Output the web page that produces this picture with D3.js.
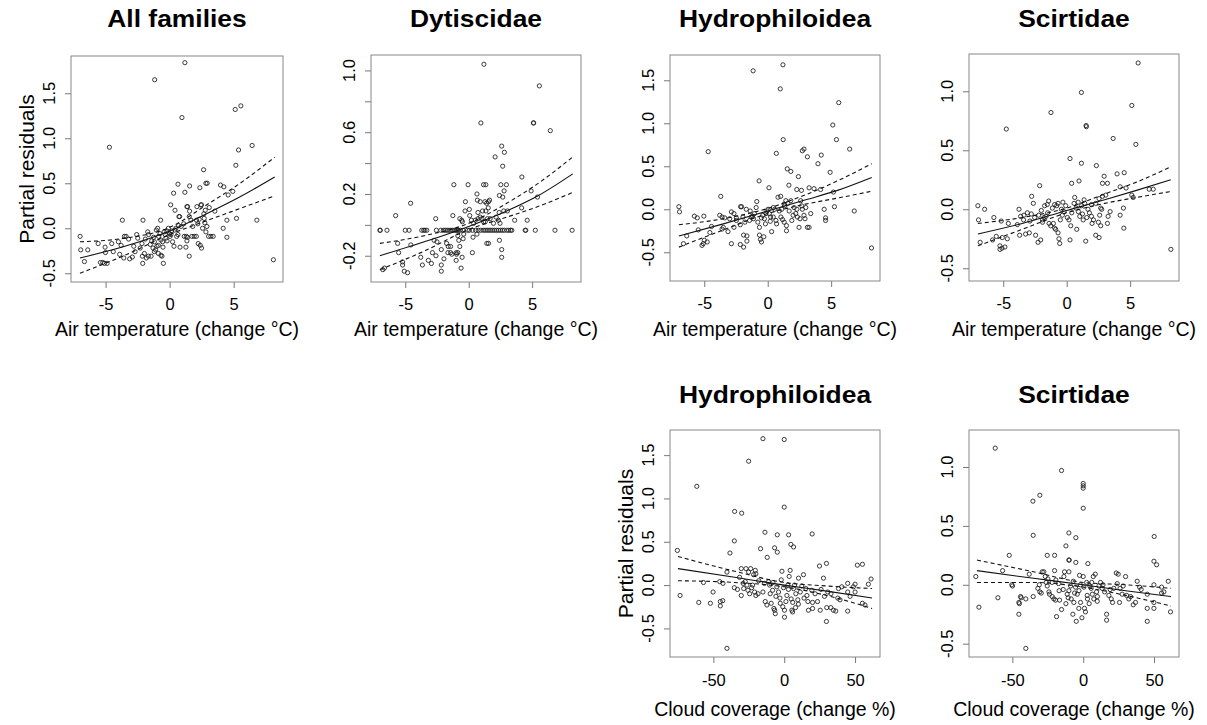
<!DOCTYPE html>
<html>
<head>
<meta charset="utf-8">
<script src="https://cdn.jsdelivr.net/npm/d3@7"></script>
<style>
body { margin: 0; background: #fff; }
text { font-family: "Liberation Sans", Arial, sans-serif; fill: #000; }
</style>
</head>
<body>
<svg id="chart" width="1207" height="725"></svg>
<script>
// axis ticks
var airTicks = [-5, 0, 5];
var cloudTicks = [-50, 0, 50];
var resTicksWide = [-0.5, 0, 0.5, 1, 1.5];
var resTicksScirt = [-0.5, 0, 0.5, 1];
var resTicksDyt = [-0.2, 0, 0.2, 0.4, 0.6, 0.8, 1.0];
var resLabelsDyt = [-0.2, 0.2, 0.6, 1.0];

// partial residuals, air temperature [change degC, residual]
var allFamiliesPts = [
[1.19,1.84],[-1.17,1.65],[0.96,1.23],[5.12,1.32],[5.56,1.36],[-4.70,0.90],[6.44,0.92],[5.38,0.87],[5.17,0.70],[2.65,0.65],
[0.65,0.49],[1.56,0.47],[2.83,0.50],[2.93,0.50],[3.97,0.48],[4.23,0.46],[1.19,0.40],[2.36,0.45],[0.31,0.39],[4.93,0.41],
[4.57,0.37],[0.08,0.26],[1.35,0.24],[1.40,0.24],[2.44,0.26],[2.49,0.26],[0.42,0.20],[0.78,0.13],[0.73,0.13],[1.56,0.19],
[2.13,0.24],[2.78,0.20],[3.09,0.23],[2.67,0.16],[1.53,0.13],[1.66,0.09],[2.31,0.10],[2.70,0.11],[2.75,0.06],[4.47,0.09],
[5.22,0.11],[6.81,0.09],[4.18,0.00],[4.47,-0.10],[8.10,-0.35],[-3.69,0.09],[-2.08,0.09],[-0.70,0.09],[-6.99,-0.09],[-6.94,-0.24],
[-6.39,-0.24],[-6.65,-0.37],[-5.58,-0.17],[-5.04,-0.21],[-5.01,-0.27],[-5.40,-0.38],[-5.22,-0.38],[-5.09,-0.39],[-4.88,-0.39],[-4.52,-0.17],
[-3.79,-0.19],[-3.53,-0.09],[-3.40,-0.09],[-3.58,-0.33],[-3.12,-0.34],[-2.91,-0.32],[-2.57,-0.07],[-2.49,-0.11],[-2.16,-0.17],[-2.13,-0.31],
[-2.10,-0.39],[-1.97,-0.28],[-1.82,-0.33],[-1.71,-0.04],[-1.64,-0.07],[-1.51,-0.18],[-1.66,-0.31],[-1.45,-0.31],[-1.25,-0.10],[-1.19,-0.15],
[-0.99,-0.20],[-0.88,-0.19],[-1.30,-0.22],[-1.19,-0.26],[-1.04,-0.02],[-0.94,0.00],[-0.86,-0.09],[-0.68,-0.13],[-0.55,-0.15],[-0.52,-0.21],
[-0.88,-0.28],[-0.68,-0.30],[-0.60,-0.31],[-0.49,-0.39],[-0.42,-0.04],[-0.34,-0.07],[-0.29,-0.11],[-0.21,-0.03],[-0.10,0.00],[0.00,-0.06],
[0.03,-0.09],[0.10,-0.07],[0.23,-0.15],[0.34,-0.20],[0.49,0.00],[0.55,-0.09],[0.70,0.03],[0.81,-0.21],[0.65,-0.07],[1.14,-0.09],
[1.30,-0.09],[1.35,-0.14],[1.40,-0.10],[1.53,-0.31],[1.27,-0.21],[1.74,-0.09],[1.92,-0.09],[2.08,-0.09],[2.23,-0.17],[2.39,-0.19],
[2.49,-0.22],[2.10,0.09],[2.57,0.00],[2.83,-0.04],[2.91,0.02],[3.04,-0.09],[3.22,-0.09],[3.40,-0.09],[3.53,0.19],
[-4.00,-0.15],[-3.20,-0.12],[-2.80,-0.20],[-2.30,-0.22],[-1.90,-0.12],[-1.40,-0.14],[-0.20,-0.14],[0.40,-0.02],[0.90,0.02],[1.10,0.05],
[1.80,0.02],[2.20,0.05],[-4.40,-0.26],[-3.90,-0.29],[-2.70,-0.26],[-1.10,-0.24],[0.15,-0.03],[-0.75,-0.06]
];

var dytiscidaePts = [
[1.20,1.04],[5.57,0.90],[0.96,0.66],[5.10,0.66],[5.12,0.66],[6.43,0.61],[2.60,0.51],[2.81,0.47],[2.08,0.44],[2.68,0.38],[4.19,0.31],
[-1.17,0.26],[-0.05,0.26],[1.17,0.26],[1.35,0.26],[2.53,0.26],[2.97,0.26],
[0.65,0.20],[2.79,0.22],[2.42,0.19],[2.68,0.18],[4.92,0.22],[5.42,0.18],
[-5.76,0.06],[-4.58,0.14],[-0.26,0.15],[0.68,0.16],[0.91,0.15],[1.28,0.15],[1.41,0.14],[1.56,0.15],[1.64,0.16],[1.54,0.11],
[0.05,0.10],[0.73,0.08],[1.09,0.09],[1.35,0.09],[2.40,0.08],[2.76,0.09],[3.05,0.09],[4.17,0.11],[3.62,0.03],[4.61,0.03],
[-2.60,0.04],[-1.25,0.06],[-0.70,0.04],[-0.55,0.03],[-0.50,0.02],[-0.29,0.09],[0.08,0.06],[0.21,0.03],[0.39,0.01],[0.52,0.03],
[0.73,0.04],[0.91,0.05],[1.04,0.04],[1.17,0.02],[1.30,0.02],[1.48,0.04],[1.69,0.04],[1.95,0.01],[2.16,0.05],[2.34,0.03],[2.47,0.01],
[-7.00,-0.035],[-6.97,-0.035],[-6.44,-0.035],[-5.00,-0.035],[-4.70,-0.035],[-3.70,-0.035],[-3.55,-0.035],[-3.45,-0.035],[-3.30,-0.035],
[-2.55,-0.035],[-2.20,-0.035],[-2.00,-0.035],[-1.85,-0.035],[-1.70,-0.035],[-1.55,-0.035],[-1.40,-0.035],[-1.25,-0.035],[-1.10,-0.035],
[-1.00,-0.035],[-0.90,-0.035],[-0.80,-0.035],[-0.65,-0.035],[-0.45,-0.035],[-0.10,-0.035],[0.05,-0.035],[0.30,-0.035],[0.55,-0.035],
[0.75,-0.035],[0.95,-0.035],[1.15,-0.035],[1.30,-0.035],[1.45,-0.035],[1.60,-0.035],[1.75,-0.035],[1.90,-0.035],[2.05,-0.035],
[2.20,-0.035],[2.35,-0.035],[2.50,-0.035],[2.65,-0.035],[2.80,-0.035],[3.00,-0.035],[3.15,-0.035],[3.30,-0.035],[3.40,-0.035],
[4.45,-0.035],[4.50,-0.035],[5.25,-0.035],[6.80,-0.035],[8.15,-0.035],
[-5.60,-0.12],[-5.52,-0.18],[-4.56,-0.13],[-6.77,-0.29],[-6.64,-0.28],[-5.21,-0.24],[-5.21,-0.26],[-5.08,-0.30],[-4.82,-0.31],[-3.78,-0.21],
[-3.65,-0.26],[-3.18,-0.23],[-2.94,-0.25],[-2.86,-0.18],[-2.73,-0.10],[-2.50,-0.11],[-2.58,-0.20],[-2.16,-0.16],[-2.16,-0.26],[-2.16,-0.30],
[-1.95,-0.22],[-1.74,-0.12],[-1.61,-0.14],[-1.43,-0.14],[-1.64,-0.18],[-1.43,-0.18],[-1.33,-0.19],[-0.99,-0.18],[-0.96,-0.19],[-0.86,-0.18],
[-0.99,-0.23],[-0.52,-0.21],[-0.60,-0.28],[-0.78,-0.10],[-0.70,-0.14],[-0.86,-0.07],[-0.44,-0.09],[-0.39,-0.06],[0.29,-0.18],[0.65,-0.06],
[0.34,-0.08],[1.43,-0.12],[1.56,-0.12],[2.42,-0.10],[2.60,-0.16],[2.60,-0.21]
];

var hydroAirPts = [
[1.20,1.68],[-1.15,1.61],[0.99,1.40],[5.60,1.24],[5.13,0.98],[5.42,0.81],[1.22,0.81],[-4.69,0.67],[6.46,0.70],[0.68,0.65],
[2.73,0.68],[2.86,0.70],[3.13,0.61],[4.22,0.63],[3.96,0.53],[1.54,0.47],[1.82,0.44],[4.92,0.43],[-0.68,0.33],[0.10,0.25],
[2.42,0.38],[1.67,0.28],[2.29,0.23],[2.66,0.22],[3.26,0.25],[3.65,0.24],[4.17,0.23],[5.18,0.20],[-3.70,0.15],[-7.00,0.03],
[-6.95,-0.03],[-5.78,-0.08],[-5.55,-0.10],[-5.03,-0.08],[-6.64,-0.40],[-6.38,-0.31],[-5.47,-0.24],[-5.18,-0.42],[-5.08,-0.40],[-5.00,-0.36],
[-4.77,-0.38],[-4.56,-0.27],[-4.43,-0.20],[-3.78,-0.07],[-3.60,-0.09],[-3.39,-0.10],[-3.50,-0.21],[-3.13,-0.26],[-3.60,-0.23],[-2.86,-0.03],
[-2.66,-0.05],[-2.47,-0.10],[-2.86,-0.40],[-2.66,-0.21],[-2.16,-0.18],[-2.14,0.03],[-2.06,0.03],[-1.90,-0.30],[-2.16,-0.41],[-1.90,-0.44],
[-1.69,0.00],[-1.64,-0.31],[-1.64,-0.37],[-1.43,-0.13],[-1.30,-0.09],[-1.12,-0.11],[-1.04,-0.05],[-0.91,0.02],[-0.86,0.09],[-0.78,-0.15],
[-0.65,-0.21],[-0.65,-0.30],[-0.57,-0.35],[-0.49,-0.38],[-0.31,-0.32],[-0.18,-0.17],[-0.39,-0.07],[-0.26,-0.11],[-0.13,-0.05],[-0.05,-0.02],
[0.03,0.00],[0.13,-0.05],[0.23,-0.09],[0.31,-0.26],[0.44,0.02],[0.55,0.00],[0.65,-0.13],[0.70,-0.17],[0.81,0.14],[1.02,0.15],
[1.04,-0.09],[1.17,-0.12],[1.30,-0.15],[1.48,-0.19],[1.48,-0.25],[1.35,0.04],[1.43,0.10],[1.59,0.07],[1.90,-0.13],[2.00,-0.07],
[2.21,-0.05],[2.34,-0.09],[2.47,-0.21],[2.55,-0.11],[2.68,0.04],[2.73,0.00],[2.86,-0.07],[2.94,-0.11],[3.13,-0.21],[3.26,-0.21],
[3.39,-0.05],[4.45,0.00],[4.56,-0.10],[4.56,-0.13],[5.26,0.03],[6.82,-0.02],[8.18,-0.45],
[-2.47,-0.13],[-3.00,-0.11],[-1.95,-0.09],[-1.38,-0.02],[0.44,-0.09],[0.91,-0.02],[1.69,-0.02],[2.08,0.02],[1.82,0.10],[2.60,0.10],
[-1.80,-0.15],[-1.20,-0.08],[-0.50,-0.10],[0.20,-0.14],[1.10,0.00],[1.30,0.06],[2.30,0.00],[3.00,0.02]
];

var scirtAirPts = [
[5.63,1.24],[1.16,0.99],[5.13,0.88],[-1.24,0.82],[1.53,0.71],[1.55,0.70],[-4.76,0.68],[3.66,0.60],[5.45,0.55],[0.26,0.43],
[1.16,0.39],[2.34,0.37],[2.95,0.28],[3.97,0.30],[4.53,0.31],[-2.13,0.20],[0.39,0.22],[0.97,0.24],[2.82,0.22],[3.21,0.22],
[4.21,0.19],[4.68,0.18],[6.50,0.17],[6.82,0.17],[5.13,0.12],[5.24,0.10],[-7.00,0.03],[-6.47,0.00],[-6.95,-0.09],[-5.74,-0.07],
[-5.16,-0.10],[-4.60,-0.12],[-6.82,-0.28],[-5.84,-0.26],[-5.55,-0.23],[-5.26,-0.31],[-5.26,-0.34],[-5.10,-0.33],[-4.87,-0.32],[-5.08,-0.24],
[-4.68,-0.25],[-3.89,-0.13],[-3.76,0.00],[-3.63,-0.06],[-3.71,-0.22],[-3.24,-0.21],[-2.95,-0.20],[-3.37,-0.05],[-3.10,-0.03],[-2.79,-0.04],
[-2.76,0.11],[-2.63,0.05],[-2.53,-0.07],[-2.21,-0.05],[-2.45,-0.22],[-2.26,-0.28],[-2.05,-0.26],[-2.00,-0.01],[-1.92,-0.09],[-1.79,-0.07],
[-1.63,-0.06],[-1.74,0.03],[-1.53,0.04],[-1.42,0.07],[-1.39,-0.12],[-1.26,-0.14],[-1.05,-0.12],[-0.95,-0.16],[-1.13,0.01],[-0.95,0.04],
[-0.79,0.03],[-0.68,0.05],[-0.87,-0.17],[-0.68,-0.20],[-0.61,-0.25],[-0.55,-0.29],[-0.42,0.00],[-0.34,-0.05],[-0.21,-0.02],[-0.08,0.03],
[0.05,-0.07],[0.18,-0.09],[0.26,-0.26],[0.32,-0.14],[0.58,0.05],[0.63,0.10],[0.74,0.01],[0.79,-0.17],[0.92,-0.02],[1.03,-0.06],
[1.16,0.03],[1.24,-0.04],[1.37,0.08],[1.42,0.05],[1.50,-0.27],[1.58,-0.07],[1.68,0.00],[1.79,-0.03],[1.95,-0.06],[2.11,-0.09],
[1.95,0.04],[2.29,0.05],[2.55,0.09],[2.68,0.01],[2.50,-0.11],[2.60,-0.05],[2.76,0.00],[2.29,-0.22],[2.55,-0.24],[2.68,-0.14],
[3.21,-0.12],[3.26,-0.06],[2.82,0.11],[3.08,0.12],[3.42,-0.02],[4.21,-0.05],[4.47,0.01],[4.50,-0.16],[8.21,-0.34],
[-1.90,-0.11],[-1.50,-0.03],[-0.50,-0.09],[0.40,-0.03],[0.90,0.06],[1.30,-0.09],[2.00,-0.12],[-2.90,-0.10],[-3.40,-0.09],[-0.30,0.06]
];

// partial residuals, cloud coverage [change %, residual]
var hydroCloudPts = [
[-15.0,1.69],[0.0,1.68],[-25.1,1.43],[-61.7,1.14],[0.0,0.90],[-35.0,0.85],[-30.0,0.83],[-35.2,0.51],[-13.6,0.61],[-4.9,0.58],
[3.1,0.58],[19.7,0.59],[4.7,0.47],[6.6,0.44],[-6.8,0.43],[-4.9,0.38],[-16.7,0.42],[-38.3,0.37],[-12.0,0.32],[-75.4,0.40],
[-73.5,-0.12],[-60.3,-0.20],[-57.0,0.03],[-52.1,-0.21],[-50.2,-0.08],[-45.1,-0.24],[-45.1,-0.19],[-43.4,-0.18],[-45.5,0.04],[-43.2,0.02],
[-40.4,0.15],[-40.4,-0.73],[-35.2,-0.03],[-31.5,0.09],[-30.3,0.19],[-30.3,-0.12],[-28.6,-0.04],[-27.0,0.19],[-25.1,0.15],[-27.5,0.04],
[-26.3,0.00],[-25.6,-0.06],[-24.4,-0.10],[-23.7,0.19],[-21.6,0.12],[-20.4,0.17],[-20.0,0.13],[-22.3,0.00],[-20.9,-0.08],[-20.0,-0.12],
[-18.5,-0.10],[-15.0,-0.08],[-13.4,-0.19],[-12.2,-0.23],[-11.0,0.04],[-10.3,0.00],[-9.9,-0.10],[-9.2,-0.21],[-8.2,-0.06],[-7.3,-0.27],
[-6.8,-0.29],[-6.3,-0.33],[-5.9,-0.13],[-5.2,-0.02],[-4.0,-0.08],[-2.8,-0.21],[-2.1,0.06],[-1.6,0.16],[-0.5,-0.03],[0.2,-0.29],
[0.2,-0.37],[1.2,-0.19],[1.9,-0.12],[2.6,0.00],[3.5,0.10],[4.2,0.17],[4.9,-0.16],[5.4,-0.29],[5.9,-0.31],[6.6,-0.04],
[7.3,0.00],[8.2,-0.10],[9.6,-0.17],[10.1,0.08],[11.3,-0.08],[12.4,-0.01],[13.6,0.12],[15.3,-0.04],[16.0,-0.12],[16.7,-0.19],
[17.1,-0.29],[19.5,-0.06],[20.0,-0.27],[21.8,-0.10],[23.5,-0.19],[24.9,0.22],[25.4,-0.29],[27.7,0.08],[28.4,-0.13],[29.8,0.25],
[29.8,-0.42],[30.8,-0.08],[30.0,-0.26],[32.9,-0.26],[34.7,-0.29],[36.4,-0.30],[38.3,-0.04],[40.6,-0.02],[44.8,0.02],[44.8,-0.30],
[44.8,-0.08],[46.5,-0.13],[50.0,0.01],[50.0,-0.08],[51.6,0.23],[55.2,0.24],[55.2,-0.21],[57.0,-0.23],[59.4,0.01],[61.3,0.07],
[48.8,-0.02],[39.4,-0.17],[37.8,-0.15],
[-33,-0.05],[-29,0.02],[-23,-0.03],[-18,0.05],[-14,0.02],[-8,0.03],[-3,-0.15],[3,-0.05],[6,-0.20],[10,-0.22],
[14,-0.15],[20,-0.20],[26,-0.05],[33,-0.10],[-1,-0.25],[8,-0.26]
];

var scirtCloudPts = [
[-62.1,1.16],[-15.3,0.97],[0.0,0.86],[0.0,0.84],[0.0,0.82],[-35.5,0.71],[-30.6,0.76],[0.0,0.65],[-35.3,0.42],[50.1,0.41],
[-10.1,0.44],[-5.2,0.40],[-12.2,0.33],[-52.2,0.25],[-25.4,0.25],[-20.2,0.25],[-10.1,0.21],[-9.9,0.21],[-5.2,0.19],[49.9,0.20],
[51.8,0.17],[-75.8,0.07],[-56.9,0.12],[-73.6,-0.19],[-60.2,-0.11],[-50.4,0.00],[-49.9,-0.01],[-44.2,-0.10],[-43.8,-0.11],[-45.4,-0.15],
[-45.0,-0.16],[-45.4,-0.25],[-40.5,-0.54],[-40.5,-0.12],[-38.1,0.09],[-35.3,-0.10],[-32.0,-0.03],[-30.6,-0.06],[-29.6,-0.07],[-28.9,0.11],
[-27.8,0.11],[-26.8,0.07],[-26.1,0.02],[-25.4,-0.01],[-24.9,0.05],[-24.2,-0.06],[-23.8,-0.08],[-21.9,-0.10],[-20.7,-0.12],[-19.5,-0.13],
[-18.8,-0.27],[-20.2,0.12],[-19.3,0.04],[-17.4,0.01],[-16.7,-0.13],[-15.3,-0.21],[-14.1,-0.04],[-13.6,0.07],[-13.2,0.11],[-12.2,-0.16],
[-11.3,-0.08],[-10.6,-0.11],[-10.1,0.11],[-10.1,-0.05],[-8.9,-0.01],[-8.5,-0.12],[-7.3,-0.25],[-6.6,-0.15],[-6.1,-0.07],[-5.4,-0.02],
[-4.9,-0.31],[-4.2,-0.08],[-3.1,-0.20],[-2.6,0.08],[-1.9,-0.15],[-0.9,-0.28],[0.0,0.07],[0.5,-0.02],[0.9,-0.20],[1.6,-0.23],
[2.4,0.02],[2.8,-0.09],[3.3,0.18],[4.2,-0.16],[4.7,-0.01],[5.6,-0.03],[6.4,-0.08],[7.1,0.07],[7.5,-0.12],[8.5,0.09],
[9.4,-0.06],[9.9,-0.14],[11.1,-0.01],[12.2,0.02],[13.4,-0.03],[15.1,-0.06],[16.5,-0.25],[16.5,-0.30],[18.1,-0.09],[19.8,-0.12],
[20.7,-0.15],[21.6,-0.03],[23.3,0.10],[24.0,0.01],[24.7,0.09],[25.6,-0.15],[27.5,-0.08],[28.2,-0.01],[29.9,0.07],[30.6,-0.09],
[32.2,-0.12],[33.4,-0.10],[35.3,-0.17],[36.9,-0.15],[38.1,0.03],[39.8,-0.02],[40.9,-0.04],[45.2,-0.08],[45.2,-0.20],[45.2,-0.31],
[49.9,0.00],[49.9,-0.15],[49.9,-0.20],[55.3,-0.02],[56.9,-0.06],[55.3,-0.07],[60.0,0.03],[61.6,-0.23],
[-22,0.02],[-17,-0.05],[-7,0.03],[-2,0.00],[3,-0.12],[6,0.02],[10,-0.10],[14,0.00],[19,-0.04],[26,-0.03],[-31,0.00],[-3,-0.05]
];

// fitted effect with confidence band [x, fit, lower, upper]
var allFamiliesFit = [[-7.0,-0.33,-0.50,-0.15],[-3.5,-0.20,-0.30,-0.11],[0,-0.03,-0.07,0.01],[3,0.17,0.09,0.27],[5.5,0.35,0.22,0.50],[8.2,0.57,0.36,0.79]];
var dytiscidaeFit = [[-7.0,-0.20,-0.29,-0.12],[-3.5,-0.11,-0.17,-0.07],[0,-0.01,-0.03,0.01],[3,0.09,0.05,0.14],[5.5,0.19,0.12,0.27],[8.2,0.33,0.21,0.44]];
var hydroAirFit = [[-7.0,-0.31,-0.44,-0.18],[-3.5,-0.17,-0.24,-0.11],[0,-0.02,-0.05,0.01],[3,0.11,0.06,0.17],[5.5,0.22,0.13,0.33],[8.2,0.37,0.21,0.53]];
var scirtAirFit = [[-7.0,-0.21,-0.31,-0.12],[-3.5,-0.12,-0.17,-0.07],[0,-0.01,-0.03,0.01],[3,0.08,0.05,0.13],[5.5,0.16,0.10,0.23],[8.2,0.25,0.15,0.36]];
var hydroCloudFit = [[-75,0.19,0.05,0.33],[-35,0.09,0.03,0.16],[0,0.00,-0.02,0.03],[30,-0.07,-0.12,-0.01],[62,-0.15,-0.27,-0.04]];
var scirtCloudFit = [[-75,0.12,0.02,0.21],[-35,0.055,0.02,0.11],[0,0.00,-0.02,0.02],[30,-0.05,-0.09,0.00],[62,-0.10,-0.18,-0.03]];

var airLabel = "Air temperature (change \u00B0C)";
var cloudLabel = "Cloud coverage (change %)";
var yLabel = "Partial residuals";

var svg = d3.select("#chart");

// layout of each panel, R style mfrow grid
var rows = [
    {titleY: 27, tickGap: 10, labY: 336},
    {titleY: 403, tickGap: 11, labY: 716}
];

var panels = [
    {title: "All families", pts: allFamiliesPts, fit: allFamiliesFit, xt: airTicks, xlab: airLabel,
     xdom: [-7.7, 8.85], ydom: [-0.597, 1.914], yt: resTicksWide, yl: resTicksWide, box: [71, 56, 283, 282], row: 0, showY: true},
    {title: "Dytiscidae", pts: dytiscidaePts, fit: dytiscidaeFit, xt: airTicks, xlab: airLabel,
     xdom: [-7.7, 8.85], ydom: [-0.37, 1.10], yt: resTicksDyt, yl: resLabelsDyt, box: [371, 55, 581, 282], row: 0, showY: false},
    {title: "Hydrophiloidea", pts: hydroAirPts, fit: hydroAirFit, xt: airTicks, xlab: airLabel,
     xdom: [-7.7, 8.85], ydom: [-0.834, 1.794], yt: resTicksWide, yl: resTicksWide, box: [670, 55, 880, 281], row: 0, showY: false},
    {title: "Scirtidae", pts: scirtAirPts, fit: scirtAirFit, xt: airTicks, xlab: airLabel,
     xdom: [-7.7, 8.85], ydom: [-0.608, 1.316], yt: resTicksScirt, yl: resTicksScirt, box: [969, 54, 1179, 281], row: 0, showY: false},
    {title: "Hydrophiloidea", pts: hydroCloudPts, fit: hydroCloudFit, xt: cloudTicks, xlab: cloudLabel,
     xdom: [-80.6, 67.6], ydom: [-0.83, 1.79], yt: resTicksWide, yl: resTicksWide, box: [670, 430, 880, 657], row: 1, showY: true},
    {title: "Scirtidae", pts: scirtCloudPts, fit: scirtCloudFit, xt: cloudTicks, xlab: cloudLabel,
     xdom: [-80.6, 67.6], ydom: [-0.613, 1.314], yt: resTicksScirt, yl: resTicksScirt, box: [969, 430, 1179, 657], row: 1, showY: false}
];

// stretch text to the wider glyphs of the original
function stretch(sel, factor) {
    sel.each(function() {
        var w = this.getComputedTextLength();
        d3.select(this).attr("textLength", w * factor).attr("lengthAdjust", "spacingAndGlyphs");
    });
}

panels.forEach(function(p) {
    var b = p.box, r = rows[p.row];
    var x = d3.scaleLinear().domain(p.xdom).range([b[0], b[2]]);
    var y = d3.scaleLinear().domain(p.ydom).range([b[3], b[1]]);
    var g = svg.append("g");

    //Title
    g.append("text")
        .attr("x", (b[0] + b[2]) / 2).attr("y", r.titleY)
        .attr("text-anchor", "middle")
        .style("font-weight", "bold").style("font-size", "24px")
        .text(p.title)
        .call(stretch, 1.1);

    //X axis
    var xa = g.append("g").attr("transform", "translate(0," + b[3] + ")")
        .call(d3.axisBottom(x).tickValues(p.xt).tickSize(6).tickSizeOuter(0)
            .tickPadding(r.tickGap).tickFormat(function(d) { return String(d); }));
    xa.select(".domain").remove();
    xa.selectAll("line").attr("stroke", "#777");
    xa.selectAll("text").style("font-size", "16.5px").attr("fill", "#000")
        .style("font-family", "'Liberation Sans', Arial, sans-serif");

    //Y axis ticks
    var ya = g.append("g").attr("transform", "translate(" + b[0] + ",0)")
        .call(d3.axisLeft(y).tickValues(p.yt).tickSize(6).tickSizeOuter(0).tickFormat(""));
    ya.select(".domain").remove();
    ya.selectAll("line").attr("stroke", "#777");

    //Y tick labels, rotated like R
    g.selectAll(".ylab").data(p.yl).enter().append("text")
        .attr("transform", function(d) { return "translate(" + (b[0] - 16) + "," + y(d) + ") rotate(-90)"; })
        .attr("text-anchor", "middle")
        .style("font-size", "16.5px")
        .text(function(d) { return d.toFixed(1); });

    //X label
    g.append("text")
        .attr("x", (b[0] + b[2]) / 2).attr("y", r.labY)
        .attr("text-anchor", "middle").style("font-size", "19.5px")
        .text(p.xlab);

    //Y label
    if (p.showY) {
        g.append("text")
            .attr("transform", "translate(" + (b[0] - 37) + "," + ((b[1] + b[3]) / 2) + ") rotate(-90)")
            .attr("text-anchor", "middle").style("font-size", "21px")
            .text(yLabel);
    }

    //Box
    g.append("rect")
        .attr("x", b[0]).attr("y", b[1])
        .attr("width", b[2] - b[0]).attr("height", b[3] - b[1])
        .attr("fill", "none").attr("stroke", "#888").attr("stroke-width", 1);

    //Points
    g.selectAll("circle").data(p.pts).enter().append("circle")
        .attr("cx", function(d) { return x(d[0]); })
        .attr("cy", function(d) { return y(d[1]); })
        .attr("r", 2.1)
        .attr("fill", "none").attr("stroke", "#1a1a1a").attr("stroke-width", 0.85);

    //Fit and confidence band
    [[1, null], [2, "4,3"], [3, "4,3"]].forEach(function(s) {
        var line = d3.line()
            .x(function(d) { return x(d[0]); })
            .y(function(d) { return y(d[s[0]]); })
            .curve(d3.curveMonotoneX);
        g.append("path").datum(p.fit)
            .attr("d", line)
            .attr("fill", "none").attr("stroke", "#111").attr("stroke-width", 1.1)
            .attr("stroke-dasharray", s[1]);
    });
});
</script>
</body>
</html>
